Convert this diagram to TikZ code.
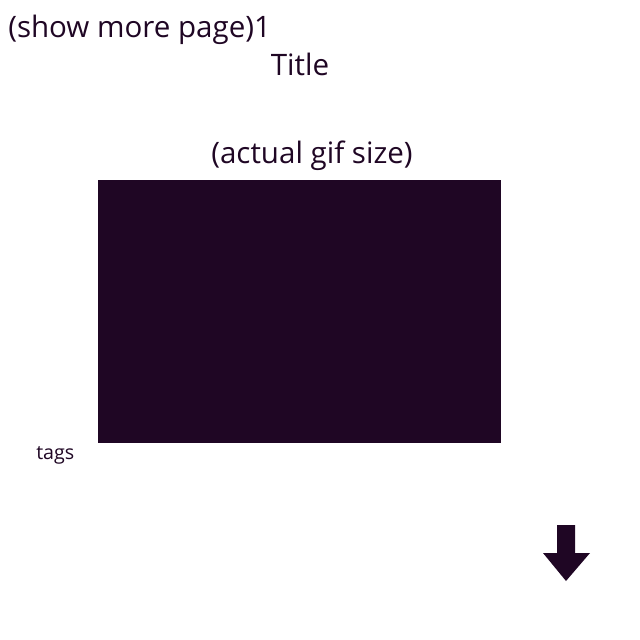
\documentclass[tikz,border=0pt]{standalone}
\usepackage{fontspec}
\setmainfont{Open Sans}
\usetikzlibrary{positioning}
\definecolor{ink}{HTML}{1F0624}

\begin{document}
\begin{tikzpicture}[x=0.025cm, y=-0.025cm,
    label/.style={text=ink, inner sep=0pt, font=\fontsize{21}{24}\selectfont},
    small/.style={text=ink, inner sep=0pt, font=\fontsize{14}{16}\selectfont},
]
\useasboundingbox (0,0) rectangle (640,640);

% page header
\node[label, anchor=base west] (more) at (8,37) {(show more page)1};
\node[label, anchor=base] (title) at (300,75) {Title};

% gif area
\node[label, anchor=base] (size) at (312,163) {(actual gif size)};
\fill[ink] (98,180) rectangle (501,443);
\node[small, anchor=base west] (tags) at (36,459) {tags};

% scroll down arrow
\fill[ink] (557,525) -- (575,525) -- (575,553) -- (590,553) -- (566,581)
    -- (543,553) -- (557,553) -- cycle;

\end{tikzpicture}
\end{document}
